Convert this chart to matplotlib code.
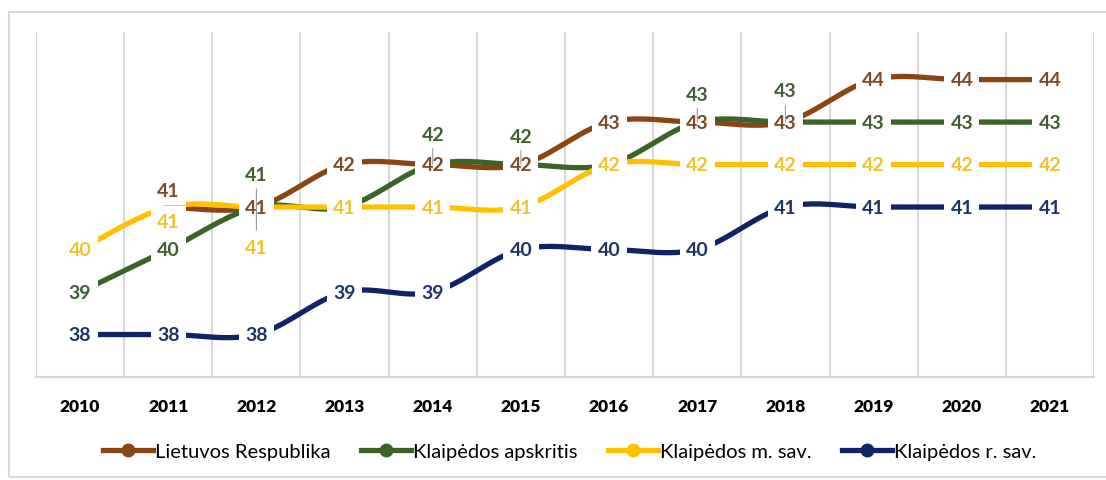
import numpy as np
import matplotlib
matplotlib.use("Agg")
import matplotlib.pyplot as plt
from matplotlib.lines import Line2D
from matplotlib.patches import Rectangle

# ---- data -------------------------------------------------------------
years = ["2010", "2011", "2012", "2013", "2014", "2015",
         "2016", "2017", "2018", "2019", "2020", "2021"]

series_names = ["Lietuvos Respublika", "Klaipėdos apskritis",
                "Klaipėdos m. sav.", "Klaipėdos r. sav."]

lietuvos = [None, 41, 41, 42, 42, 42, 43, 43, 43, 44, 44, 44]
apskritis = [39, 40, 41, 41, 42, 42, 42, 43, 43, 43, 43, 43]
miesto_sav = [40, 41, 41, 41, 41, 41, 42, 42, 42, 42, 42, 42]
rajono_sav = [38, 38, 38, 39, 39, 40, 40, 40, 41, 41, 41, 41]

# ---- style -------------------------------------------------------------
line_colors = ["#8B4513", "#3B6426", "#FFC000", "#0F2366"]
text_colors = ["#7E4A26", "#3F5F32", "#F2C12E", "#1F3366"]
series = [lietuvos, apskritis, miesto_sav, rajono_sav]

# label offsets (pixels, up positive) where labels would collide
label_shift = {
    (0, 1): 17, (2, 1): -14,
    (1, 2): 33, (2, 2): -40,
    (1, 4): 30, (1, 5): 28, (1, 7): 28, (1, 8): 32,
}
leader_lines = [(2, 41, 18, -23), (4, 42, 16, 4), (5, 42, 14, 4),
                (7, 43, 14, 4), (8, 43, 16, 4)]

FONT = ["Lato", "DejaVu Sans"]
plt.rcParams["font.family"] = FONT


def smooth(xs, ys, n=40):
    """Catmull-Rom style smoothing through the given points."""
    xs = np.asarray(xs, float)
    ys = np.asarray(ys, float)
    px = np.concatenate([[xs[0]], xs, [xs[-1]]])
    py = np.concatenate([[ys[0]], ys, [ys[-1]]])
    out_x, out_y = [], []
    t = np.linspace(0, 1, n)
    for i in range(1, len(px) - 2):
        p0 = np.array([px[i - 1], py[i - 1]])
        p1 = np.array([px[i], py[i]])
        p2 = np.array([px[i + 1], py[i + 1]])
        p3 = np.array([px[i + 2], py[i + 2]])
        c1 = p1 + (p2 - p0) / 6.0
        c2 = p2 - (p3 - p1) / 6.0
        b = ((1 - t) ** 3)[:, None] * p1 + (3 * (1 - t) ** 2 * t)[:, None] * c1 \
            + (3 * (1 - t) * t ** 2)[:, None] * c2 + (t ** 3)[:, None] * p2
        out_x.extend(b[:, 0])
        out_y.extend(b[:, 1])
    return np.array(out_x), np.array(out_y)


fig = plt.figure(figsize=(11.06, 4.81), dpi=100)
W, H = 1106, 481
ax = fig.add_axes([36 / W, 1 - 378 / H, (1094 - 36) / W, (378 - 33) / H])

# outer chart border
fig.patches.append(Rectangle((9 / W, 1 - 478 / H), 1.2, (478 - 13) / H,
                             transform=fig.transFigure, fill=False,
                             edgecolor="#D9D9D9", linewidth=1.5, zorder=0))

x = np.arange(len(years))
for k, vals in enumerate(series):
    pts = [(xi, v) for xi, v in zip(x, vals) if v is not None]
    sx, sy = smooth([p[0] for p in pts], [p[1] for p in pts])
    ax.plot(sx, sy, color=line_colors[k], lw=3.8, solid_capstyle="butt",
            zorder=2 + k * 0.1)

for k, vals in enumerate(series):
    for xi, v in zip(x, vals):
        if v is None:
            continue
        dy = label_shift.get((k, xi), 0)
        ax.annotate(f"{v}", (xi, v), xytext=(0, dy), textcoords="offset pixels",
                    ha="center", va="center", fontsize=14, fontweight="bold",
                    color=text_colors[k], zorder=5 + k * 0.1,
                    bbox=dict(boxstyle="square,pad=0.32", fc="white", ec="none"))

for xi, v, top, bot in leader_lines:
    ax.annotate("", (xi, v), xytext=(0, top), textcoords="offset pixels",
                arrowprops=dict(arrowstyle="-", color="#9A9A9A", lw=0.8,
                                shrinkA=0, shrinkB=0), zorder=7)
    if bot < 0:
        ax.annotate("", (xi, v), xytext=(0, bot), textcoords="offset pixels",
                    arrowprops=dict(arrowstyle="-", color="#9A9A9A", lw=0.8,
                                    shrinkA=0, shrinkB=0), zorder=7)

ax.set_xlim(-0.5, len(years) - 0.5)
ax.set_ylim(37, 45.12)
ax.set_xticks(x)
ax.set_xticklabels(years, fontsize=12.5, fontweight="heavy", color="#000000")
ax.set_xticks(np.arange(-0.5, len(years), 1.0), minor=True)
ax.tick_params(axis="x", which="both", length=0, pad=15)
ax.set_yticks([])
ax.grid(axis="x", which="minor", color="#D9D9D9", lw=1.5)
ax.grid(axis="x", which="major", visible=False)
for side in ["top", "left", "right"]:
    ax.spines[side].set_visible(False)
ax.spines["bottom"].set_color("#D9D9D9")
ax.spines["bottom"].set_linewidth(1.5)
ax.set_axisbelow(True)

handles = [Line2D([0], [0], color=c, lw=3.8, marker="o", markersize=9,
                  markerfacecolor=c, markeredgecolor=c) for c in line_colors]
fig.legend(handles, series_names, loc="center", ncol=4, frameon=False,
           bbox_to_anchor=(0.515, 1 - 452 / H), fontsize=14.5,
           handlelength=2.5, handletextpad=0.1, columnspacing=1.5)

fig.savefig("out.png", dpi=100)
